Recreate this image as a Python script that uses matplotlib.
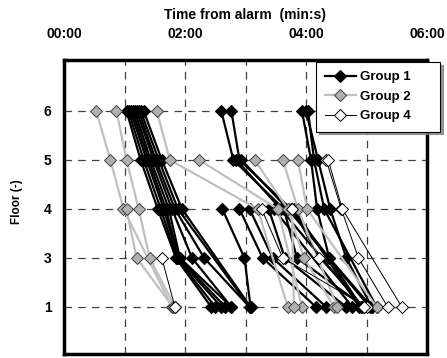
import numpy as np
import matplotlib
matplotlib.use("Agg")
import matplotlib.pyplot as plt

nan = np.nan

# floors on the y axis, top to bottom (floor 2 not measured)
floors = [6, 5, 4, 3, 1]
floor_ticks = [1, 3, 4, 5, 6]

# time from alarm (s) at floors 6, 5, 4, 3, 1 for each person
group1_times = [
    [62, 76, 93, 111, 146],
    [64, 79, 96, 112, 150],
    [66, 82, 99, 113, 156],
    [68, 84, 101, 114, 160],
    [70, 86, 104, 115, 166],
    [72, 89, 107, 127, 166],
    [74, 91, 110, 139, 184],
    [76, 94, 113, nan, 184],
    [79, 97, 117, nan, 185],
    [156, 168, 218, 231, 298],
    [166, 174, 225, 263, 305],
    [nan, 171, 215, nan, 296],
    [nan, 176, 222, nan, 303],
    [nan, nan, 157, 179, 185],
    [nan, nan, 174, 197, 250],
    [nan, nan, 184, 207, 260],
    [nan, nan, 203, 219, 280],
    [nan, nan, 208, nan, 286],
    [nan, nan, 228, nan, 293],
    [236, 245, 251, 263, 295],
    [240, 252, 264, 280, 305],
    [242, 248, 258, nan, 310],
]
group2_times = [
    [32, 46, 59, nan, 107],
    [52, 62, 74, 85, 110],
    [nan, nan, 62, 72, 108],
    [92, 105, 192, nan, 222],
    [nan, 134, 212, nan, 236],
    [nan, 189, 222, 238, 268],
    [nan, 217, 232, nan, 271],
    [nan, 232, 241, nan, 310],
    [nan, nan, 226, nan, 228],
]
group4_times = [
    [nan, nan, nan, 97, 110],
    [nan, 260, 275, 292, 321],
    [nan, 262, 276, nan, 335],
    [nan, nan, 196, 217, 300],
    [nan, nan, 226, 253, 298],
]

time_ticks = [0, 120, 240, 360]
time_labels = ["00:00", "02:00", "04:00", "06:00"]

plt.rcParams['font.family'] = ['Liberation Sans', 'DejaVu Sans']
plt.rcParams['font.weight'] = 'bold'

fig = plt.figure(figsize=(4.47, 3.58), dpi=100)
ax = fig.add_axes([64 / 447, 4 / 358, 363 / 447, 294 / 358])

pos = {f: i for i, f in enumerate(floor_ticks)}
ypos = np.array([pos[f] for f in floors])


def draw_group(times, label, lw, lcolor, mface, medge, mew, z):
    first = True
    for row in times:
        t = np.array(row, dtype=float)
        ok = ~np.isnan(t)
        ax.plot(t[ok] / 60.0, ypos[ok], color=lcolor, lw=lw, marker='D',
                markersize=6.2, markerfacecolor=mface, markeredgecolor=medge,
                markeredgewidth=mew, zorder=z, label=label if first else None)
        first = False


draw_group(group1_times, "Group 1", 1.6, 'black', 'black', 'black', 0.8, 3)
draw_group(group2_times, "Group 2", 1.6, '#c0c0c0', '#b0b0b0', '#404040', 0.7, 4)
draw_group(group4_times, "Group 4", 0.7, 'black', 'white', 'black', 0.7, 5)

ax.set_xlim(0, 6)
ax.set_ylim(-0.96, 5.04)
ax.set_xticks([t / 60 for t in time_ticks])
ax.set_xticklabels(time_labels)
ax.set_xticks([1, 3, 5], minor=True)
ax.set_yticks(range(len(floor_ticks)))
ax.set_yticklabels([str(f) for f in floor_ticks])
ax.xaxis.tick_top()
ax.tick_params(which='both', length=0)
ax.tick_params(axis='x', pad=14, labelsize=10)
ax.tick_params(axis='y', pad=9, labelsize=10)
for lab in ax.get_xticklabels() + ax.get_yticklabels():
    lab.set_fontweight('bold')

ax.grid(True, which='both', color='#404040', lw=0.9, linestyle=(0, (6, 5)))
ax.set_axisbelow(True)
for sp in ax.spines.values():
    sp.set_linewidth(2.5)
    sp.set_color('black')

fig.text(245.5 / 447, 1 - 15 / 358, "Time from alarm  (min:s)", ha='center',
         va='center', fontsize=10, fontweight='bold')
fig.text(17 / 447, 1 - 202 / 358, "Floor (-)", ha='center', va='center',
         rotation=90, fontsize=8.5, fontweight='bold')

leg = ax.legend(loc='upper left',
                bbox_to_anchor=(316 / 447, 1 - 133 / 358, 124 / 447, 71 / 358),
                bbox_transform=fig.transFigure, mode='expand', fancybox=False,
                framealpha=1, edgecolor='black', fontsize=9.5, handlelength=2.3,
                handletextpad=0.3, labelspacing=0.55, borderpad=0.7,
                borderaxespad=0, shadow={'color': '#808080', 'alpha': 0.8})
leg.get_frame().set_linewidth(0.8)
leg.set_zorder(10)
for txt in leg.get_texts():
    txt.set_fontweight('bold')

fig.savefig("out.png", dpi=100)
